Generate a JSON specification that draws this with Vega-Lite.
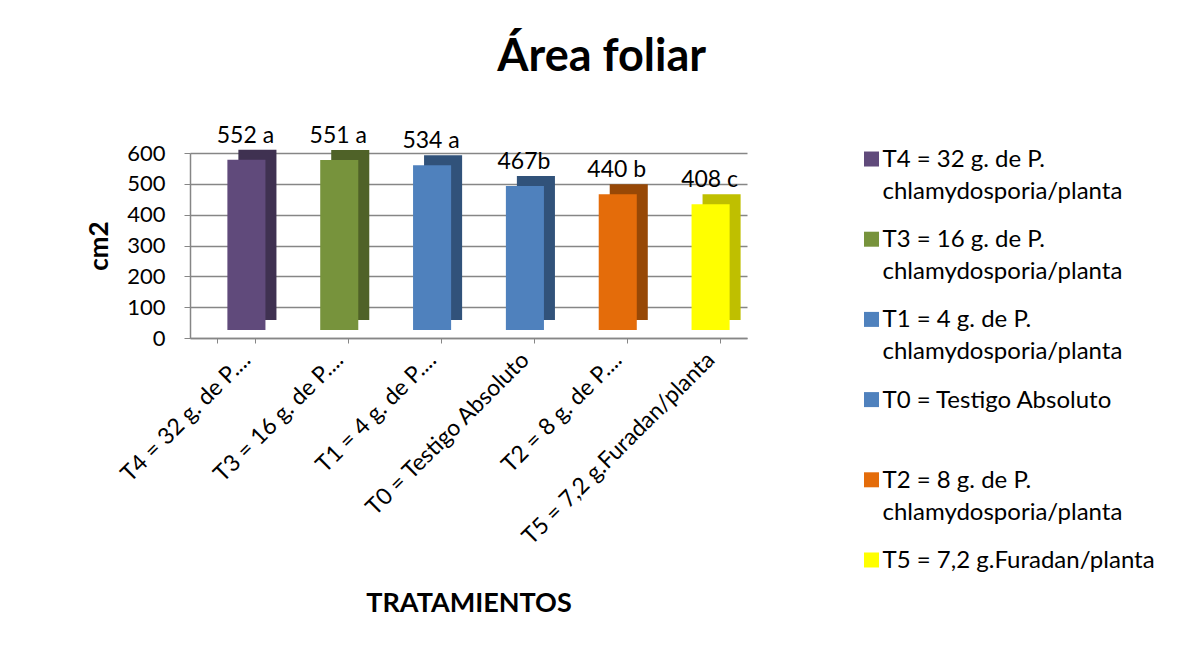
{
  "$schema": "https://vega.github.io/schema/vega-lite/v6.json",
  "background": "white",
  "padding": {"left": 86, "top": 34, "right": 5, "bottom": 5},
  "title": {"text": "Área foliar", "fontSize": 45, "font": "Lato", "fontWeight": "bold", "anchor": "middle", "color": "#000000", "offset": 45, "dx": -19},
  "config": {"font": "Lato", "view": {"stroke": null}},
  "bounds": "flush",
  "spacing": 117,
  "resolve": {"scale": {"color": "independent", "y": "independent"}},
  "datasets": {
    "d": [
      {"eje": "T4 = 32 g. de P....", "leyenda": "T4 = 32 g. de P.|chlamydosporia/planta", "area": 552, "etiqueta": "552 a"},
      {"eje": "T3 = 16 g. de P....", "leyenda": "T3 = 16 g. de P.|chlamydosporia/planta", "area": 551, "etiqueta": "551 a"},
      {"eje": "T1 = 4 g. de P....", "leyenda": "T1 = 4 g. de P.|chlamydosporia/planta", "area": 534, "etiqueta": "534 a"},
      {"eje": "T0 = Testigo Absoluto", "leyenda": "T0 = Testigo Absoluto", "area": 467, "etiqueta": "467b"},
      {"eje": "T2 = 8 g. de P....", "leyenda": "T2 = 8 g. de P.|chlamydosporia/planta", "area": 440, "etiqueta": "440 b"},
      {"eje": "T5 = 7,2 g.Furadan/planta", "leyenda": "T5 = 7,2 g.Furadan/planta", "area": 408, "etiqueta": "408 c"}
    ]
  },
  "hconcat": [
    {
      "data": {"name": "d"},
      "width": 557,
      "height": 185,
      "encoding": {
        "x": {
          "field": "eje", "type": "nominal", "sort": null,
          "scale": {"paddingInner": 0.59, "paddingOuter": 0.295},
          "axis": {"labelAngle": -45, "labelFontSize": 23, "labelColor": "#000000", "labelAlign": "right", "labelBaseline": "middle", "labelLimit": 400, "labelPadding": 13, "labelOffset": 10,
                   "title": "TRATAMIENTOS", "titleFontSize": 27, "titleFontWeight": "bold", "titleColor": "#000000", "titlePadding": 52,
                   "tickBand": "extent", "tickColor": "#868686", "tickSize": 5, "domainColor": "#868686", "domainWidth": 1.5}
        },
        "y": {
          "field": "area", "type": "quantitative",
          "scale": {"domain": [0, 600], "nice": false},
          "axis": {"values": [0, 100, 200, 300, 400, 500, 600], "labelFontSize": 22, "labelColor": "#000000", "labelPadding": 19,
                   "title": "cm2", "titleFontSize": 26, "titleFontWeight": "bold", "titleColor": "#000000", "titlePadding": 14,
                   "grid": true, "gridColor": "#868686", "gridWidth": 1.5, "tickColor": "#868686", "tickSize": 6, "domainColor": "#868686", "domainWidth": 1.5}
        }
      },
      "layer": [
        {
          "mark": {"type": "bar", "xOffset": 21, "yOffset": -18},
          "encoding": {
            "color": {"field": "eje", "type": "nominal", "sort": null, "legend": null,
                      "scale": {"domain": ["T4 = 32 g. de P....", "T3 = 16 g. de P....", "T1 = 4 g. de P....", "T0 = Testigo Absoluto", "T2 = 8 g. de P....", "T5 = 7,2 g.Furadan/planta"],
                                "range": ["#3F3151", "#4F6228", "#31527A", "#31527A", "#974806", "#BFBF00"]}}
          }
        },
        {
          "mark": {"type": "bar", "xOffset": 10, "yOffset": -8},
          "encoding": {
            "color": {"field": "eje", "type": "nominal", "sort": null, "legend": null,
                      "scale": {"domain": ["T4 = 32 g. de P....", "T3 = 16 g. de P....", "T1 = 4 g. de P....", "T0 = Testigo Absoluto", "T2 = 8 g. de P....", "T5 = 7,2 g.Furadan/planta"],
                                "range": ["#604A7B", "#77933C", "#4F81BD", "#4F81BD", "#E46C0A", "#FFFF00"]}}
          }
        },
        {
          "mark": {"type": "text", "baseline": "alphabetic", "dy": -25, "dx": 9, "fontSize": 23, "color": "#000000"},
          "encoding": {"text": {"field": "etiqueta"}}
        }
      ],
      "resolve": {"scale": {"color": "independent"}}
    },
    {
      "data": {"name": "d"},
      "width": 15,
      "height": 413,
      "encoding": {
        "y": {"field": "eje", "type": "nominal", "sort": null, "scale": {"type": "point", "padding": 0.075}, "axis": null}
      },
      "layer": [
        {
          "mark": {"type": "square", "size": 225, "filled": true, "opacity": 1},
          "encoding": {
            "color": {"field": "eje", "type": "nominal", "sort": null, "legend": null,
                      "scale": {"domain": ["T4 = 32 g. de P....", "T3 = 16 g. de P....", "T1 = 4 g. de P....", "T0 = Testigo Absoluto", "T2 = 8 g. de P....", "T5 = 7,2 g.Furadan/planta"],
                                "range": ["#604A7B", "#77933C", "#4F81BD", "#4F81BD", "#E46C0A", "#FFFF00"]}}
          }
        },
        {
          "mark": {"type": "text", "align": "left", "baseline": "top", "dx": 11, "dy": -11, "lineBreak": "|", "lineHeight": 32, "fontSize": 24, "color": "#000000"},
          "encoding": {"text": {"field": "leyenda"}}
        }
      ]
    }
  ]
}
